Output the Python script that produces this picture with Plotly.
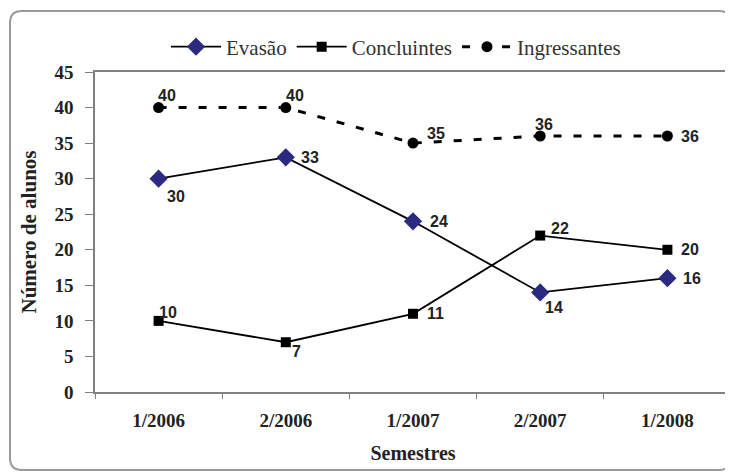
import plotly.graph_objects as go

semestres = ["1/2006", "2/2006", "1/2007", "2/2007", "1/2008"]
evasao = [30, 33, 24, 14, 16]
concluintes = [10, 7, 11, 22, 20]
ingressantes = [40, 40, 35, 36, 36]

# label offsets (px) relative to each point: (dx, dy_up)
off_evasao = [(17, -18), (24, 0), (26, 0), (14, -15), (25, 0)]
off_concl = [(9, 8), (11, -9), (22, 0), (20, 7), (23, 0)]
off_ingr = [(8, 12), (9, 12), (23, 10), (4, 12), (23, 0)]

label_font = dict(family="Liberation Sans, Arial", size=16, color="#222222", weight="bold")
serif = "Liberation Serif, Times New Roman"
ink = "#222222"

fig = go.Figure()
fig.add_trace(go.Scatter(
    x=semestres, y=evasao, name="Evasão", mode="lines+markers",
    line=dict(color="black", width=1.8),
    marker=dict(symbol="diamond", size=14, color="#2a2a80"),
))
fig.add_trace(go.Scatter(
    x=semestres, y=concluintes, name="Concluintes", mode="lines+markers",
    line=dict(color="black", width=1.8),
    marker=dict(symbol="square", size=10, color="black"),
))
fig.add_trace(go.Scatter(
    x=semestres, y=ingressantes, name="Ingressantes", mode="lines+markers",
    line=dict(color="black", width=3, dash="8px,12px"),
    marker=dict(symbol="circle", size=11, color="black"),
))

for vals, offs in ((evasao, off_evasao), (concluintes, off_concl), (ingressantes, off_ingr)):
    for cat, v, (dx, dy) in zip(semestres, vals, offs):
        fig.add_annotation(x=cat, y=v, text=str(v), showarrow=False,
                           xshift=dx, yshift=dy, font=label_font)

# page body margin offsets figure by 8px
OFF = 8
W, H = 733 - OFF, 472 - OFF
l = 95 - OFF
t = 72 - OFF
r = W - (731 - OFF)
b = H - (392 - OFF)
pw, ph = W - l - r, H - t - b
def px(xp):
    return (xp - OFF - l) / pw
def py(yp):
    return (H - b - (yp - OFF)) / ph

x0, x1, y0, y1, rad = 10, 731, 11, 470, 12
path = (f"M {px(x0)},{py(y0+rad)} Q {px(x0)},{py(y0)} {px(x0+rad)},{py(y0)} "
        f"L {px(x1-rad)},{py(y0)} Q {px(x1)},{py(y0)} {px(x1)},{py(y0+rad)} "
        f"L {px(x1)},{py(y1-rad)} Q {px(x1)},{py(y1)} {px(x1-rad)},{py(y1)} "
        f"L {px(x0+rad)},{py(y1)} Q {px(x0)},{py(y1)} {px(x0)},{py(y1-rad)} Z")
fig.add_shape(type="path", path=path, xref="paper", yref="paper",
              line=dict(color="#9a9a9a", width=2), layer="below")

fig.update_layout(
    width=W, height=H,
    margin=dict(l=l, r=r, t=t, b=b, autoexpand=False),
    plot_bgcolor="white", paper_bgcolor="white",
    showlegend=True,
    legend=dict(orientation="h", x=px(396), xanchor="center", y=py(47), yanchor="middle",
                font=dict(family=serif, size=21, color="#333333"),
                itemwidth=50, tracegroupgap=0, bgcolor="rgba(0,0,0,0)"),
    xaxis=dict(
        type="category", range=[-0.5, 4.5], tickson="boundaries",
        ticks="outside", ticklen=5, tickcolor="#808080",
        showline=True, linecolor="#808080", linewidth=1.5, mirror=True,
        showgrid=False, zeroline=False, ticklabelstandoff=10,
        tickfont=dict(family=serif, size=19, color=ink, weight="bold"),
        title=dict(text="Semestres", font=dict(family=serif, size=20, color=ink, weight="bold"),
                   standoff=16),
    ),
    yaxis=dict(
        range=[0, 45], dtick=5, ticks="outside", ticklen=8, tickcolor="#808080",
        showline=True, linecolor="#808080", linewidth=1.5, mirror=True,
        showgrid=False, zeroline=False, ticklabelstandoff=8,
        tickfont=dict(family=serif, size=19, color=ink, weight="bold"),
        title=dict(text="Número de alunos", font=dict(family=serif, size=21, color=ink, weight="bold"),
                   standoff=12),
    ),
)

fig.write_html("out.html")
